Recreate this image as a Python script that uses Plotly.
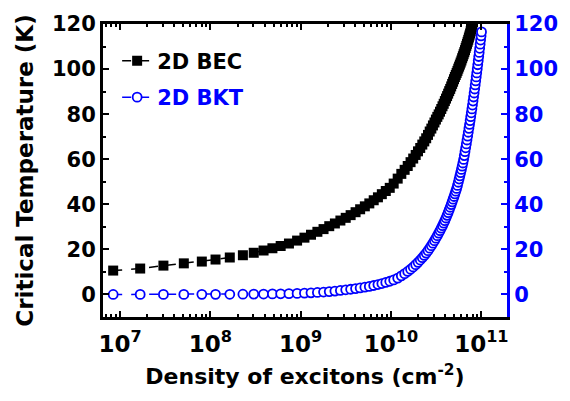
import plotly.graph_objects as go

# Exciton density (cm^-2), shared by both curves
density = [
    8.39e6, 1.67e7, 3.02e7, 5.08e7, 8.04e7, 1.14e8, 1.64e8, 2.29e8,
    3.02e8, 3.88e8, 4.86e8, 6.00e8, 7.41e8, 9.12e8, 1.10e9, 1.30e9,
    1.53e9, 1.79e9, 2.07e9, 2.39e9, 2.75e9, 3.15e9, 3.57e9, 4.05e9,
    4.55e9, 5.13e9, 5.75e9, 6.43e9, 7.16e9, 7.91e9, 8.75e9, 9.68e9,
    10.7e9, 11.85e9, 13.0e9, 14.15e9, 15.3e9, 16.45e9, 17.6e9, 18.75e9,
    19.9e9, 21.05e9, 22.2e9, 23.35e9, 24.5e9, 25.65e9, 26.8e9, 27.95e9,
    29.1e9, 30.25e9, 31.4e9, 32.55e9, 33.7e9, 34.85e9, 36.0e9, 37.15e9,
    38.3e9, 39.45e9, 40.6e9, 41.75e9, 42.9e9, 44.05e9, 45.2e9, 46.35e9,
    47.5e9, 48.65e9, 49.8e9, 50.95e9, 52.1e9, 53.25e9, 54.4e9, 55.55e9,
    56.7e9, 57.85e9, 59.0e9, 60.15e9, 61.3e9, 62.45e9, 63.6e9, 64.75e9,
    65.9e9, 67.05e9, 68.2e9, 69.35e9, 70.5e9, 71.65e9, 72.8e9, 73.95e9,
    75.1e9, 76.25e9, 77.4e9, 78.55e9, 79.7e9, 80.85e9, 82.0e9, 83.15e9,
    84.3e9, 85.45e9, 86.6e9, 87.75e9, 88.9e9, 90.05e9, 91.2e9, 92.35e9,
    93.5e9, 94.65e9, 95.8e9, 96.95e9, 98.1e9, 99.25e9, 100.4e9,
]

# 2D BEC critical temperature (K); the curve leaves the frame above 120 K
t_bec = [
    10.6, 11.5, 12.8, 13.8, 14.6, 15.5, 16.4, 17.4,
    18.5, 19.5, 20.5, 21.5, 22.6, 23.9, 25.2, 26.5,
    27.8, 29.0, 30.3, 31.5, 32.8, 34.0, 35.2, 36.5,
    37.8, 39.1, 40.4, 41.8, 43.1, 44.5, 45.9, 47.3,
    49.2, 51.4, 53.5, 55.3, 57.0, 58.7, 60.3, 61.9,
    63.5, 65.0, 66.5, 67.9, 69.3, 70.8, 72.3, 73.6,
    75.0, 76.3, 77.6, 78.8, 79.9, 81.1, 82.3, 83.5,
    84.6, 85.8, 86.9, 88.0, 89.1, 90.2, 91.2, 92.3,
    93.4, 94.4, 95.5, 96.5, 97.4, 98.3, 99.2, 100.2,
    101.1, 102.0, 102.9, 103.8, 104.8, 105.7, 106.6, 107.5,
    108.4, 109.4, 110.3, 111.2, 112.1, 113.0, 114.0, 114.9,
    115.8, 116.8, 117.7, 118.6, 119.5,
]

# 2D BKT transition temperature (K)
t_bkt = [
    0.0, 0.01, 0.02, 0.03, 0.04, 0.06, 0.08, 0.11,
    0.15, 0.19, 0.24, 0.30, 0.37, 0.46, 0.57, 0.72,
    0.89, 1.08, 1.28, 1.51, 1.77, 2.07, 2.31, 2.59,
    2.88, 3.22, 3.58, 3.98, 4.40, 4.84, 5.33, 5.87,
    6.45, 7.27, 8.25, 9.23, 10.21, 11.19, 12.18, 13.21,
    14.24, 15.27, 16.31, 17.34, 18.37, 19.43, 20.55, 21.66,
    22.77, 23.88, 24.99, 26.10, 27.21, 28.32, 29.43, 30.54,
    31.65, 32.76, 33.93, 35.12, 36.32, 37.51, 38.70, 39.89,
    41.08, 42.27, 43.46, 44.65, 45.84, 47.03, 48.37, 49.79,
    51.21, 52.64, 54.06, 55.48, 56.91, 58.33, 59.9, 61.63,
    63.35, 65.08, 66.8, 68.53, 70.25, 71.98, 73.7, 75.43,
    77.15, 78.88, 80.6, 82.33, 84.05, 85.82, 87.6, 89.38,
    91.17, 92.95, 94.73, 96.51, 98.3, 100.08, 101.91, 103.74,
    105.57, 107.39, 109.22, 111.05, 112.88, 114.7, 116.5,
]

x_major = [1e7, 1e8, 1e9, 1e10, 1e11]
x_labels = ["10<sup>7</sup>", "10<sup>8</sup>", "10<sup>9</sup>",
            "10<sup>10</sup>", "10<sup>11</sup>"]
x_minor = [m * 10 ** e for e in range(6, 11) for m in range(2, 10)
           if 6.5e6 < m * 10 ** e < 1.9e11]
y_major = [0, 20, 40, 60, 80, 100, 120]
y_minor = [10, 30, 50, 70, 90, 110]

BLUE = "#0000FF"
FONT = "DejaVu Sans"

fig = go.Figure()

fig.add_trace(go.Scatter(
    x=density[:len(t_bec)], y=t_bec,
    mode="lines+markers",
    name="2D BEC",
    line=dict(color="black", width=1.5, dash="dash"),
    marker=dict(symbol="square", size=10, color="black"),
    legendgroup="bec",
))

fig.add_trace(go.Scatter(
    x=density, y=t_bkt,
    mode="lines+markers",
    name="<span style='color:#0000FF'>2D BKT</span>",
    line=dict(color=BLUE, width=1.5, dash="dash"),
    marker=dict(symbol="circle", size=9, color="white",
                line=dict(color=BLUE, width=1.8)),
    yaxis="y2",
    legendgroup="bkt",
))

fig.update_layout(
    width=570, height=401,
    margin=dict(l=103, r=57, t=14, b=84),
    paper_bgcolor="white", plot_bgcolor="white",
    font=dict(family=FONT, color="black"),
    showlegend=True,
    legend=dict(
        x=0.035, y=0.943, xanchor="left", yanchor="top",
        font=dict(family=FONT, size=21, weight="bold", color="black"),
        bgcolor="rgba(0,0,0,0)", tracegroupgap=6,
    ),
    xaxis=dict(
        type="log", range=[6.811, 11.284],
        tickmode="array", tickvals=x_major, ticktext=x_labels,
        ticks="inside", ticklen=6, tickwidth=2, tickcolor="black",
        minor=dict(tickvals=x_minor, ticks="inside", ticklen=3,
                   tickwidth=2, tickcolor="black"),
        showline=True, linewidth=3, linecolor="black", mirror="ticks",
        showgrid=False, zeroline=False,
        ticklabelstandoff=4,
        tickfont=dict(family=FONT, size=23, weight="bold", color="black"),
        title=dict(text="Density of excitons (cm<sup>-2</sup>)",
                   font=dict(family=FONT, size=22, weight="bold",
                             color="black"),
                   standoff=14),
    ),
    yaxis=dict(
        range=[-10, 120],
        tickmode="array", tickvals=y_major,
        ticks="inside", ticklen=6, tickwidth=2, tickcolor="black",
        minor=dict(tickvals=y_minor, ticks="inside", ticklen=3,
                   tickwidth=2, tickcolor="black"),
        showline=True, linewidth=3, linecolor="black", mirror=False,
        showgrid=False, zeroline=False,
        tickfont=dict(family=FONT, size=21, weight="bold", color="black"),
        title=dict(text="Critical Temperature (K)",
                   font=dict(family=FONT, size=23, weight="bold",
                             color="black"),
                   standoff=12),
    ),
    yaxis2=dict(
        range=[-10, 120], overlaying="y", side="right",
        tickmode="array", tickvals=y_major,
        ticks="inside", ticklen=6, tickwidth=2, tickcolor=BLUE,
        minor=dict(tickvals=y_minor, ticks="inside", ticklen=3,
                   tickwidth=2, tickcolor=BLUE),
        showline=True, linewidth=3, linecolor=BLUE,
        showgrid=False, zeroline=False,
        tickfont=dict(family=FONT, size=21, weight="bold", color=BLUE),
    ),
)

fig.write_html("out.html")
